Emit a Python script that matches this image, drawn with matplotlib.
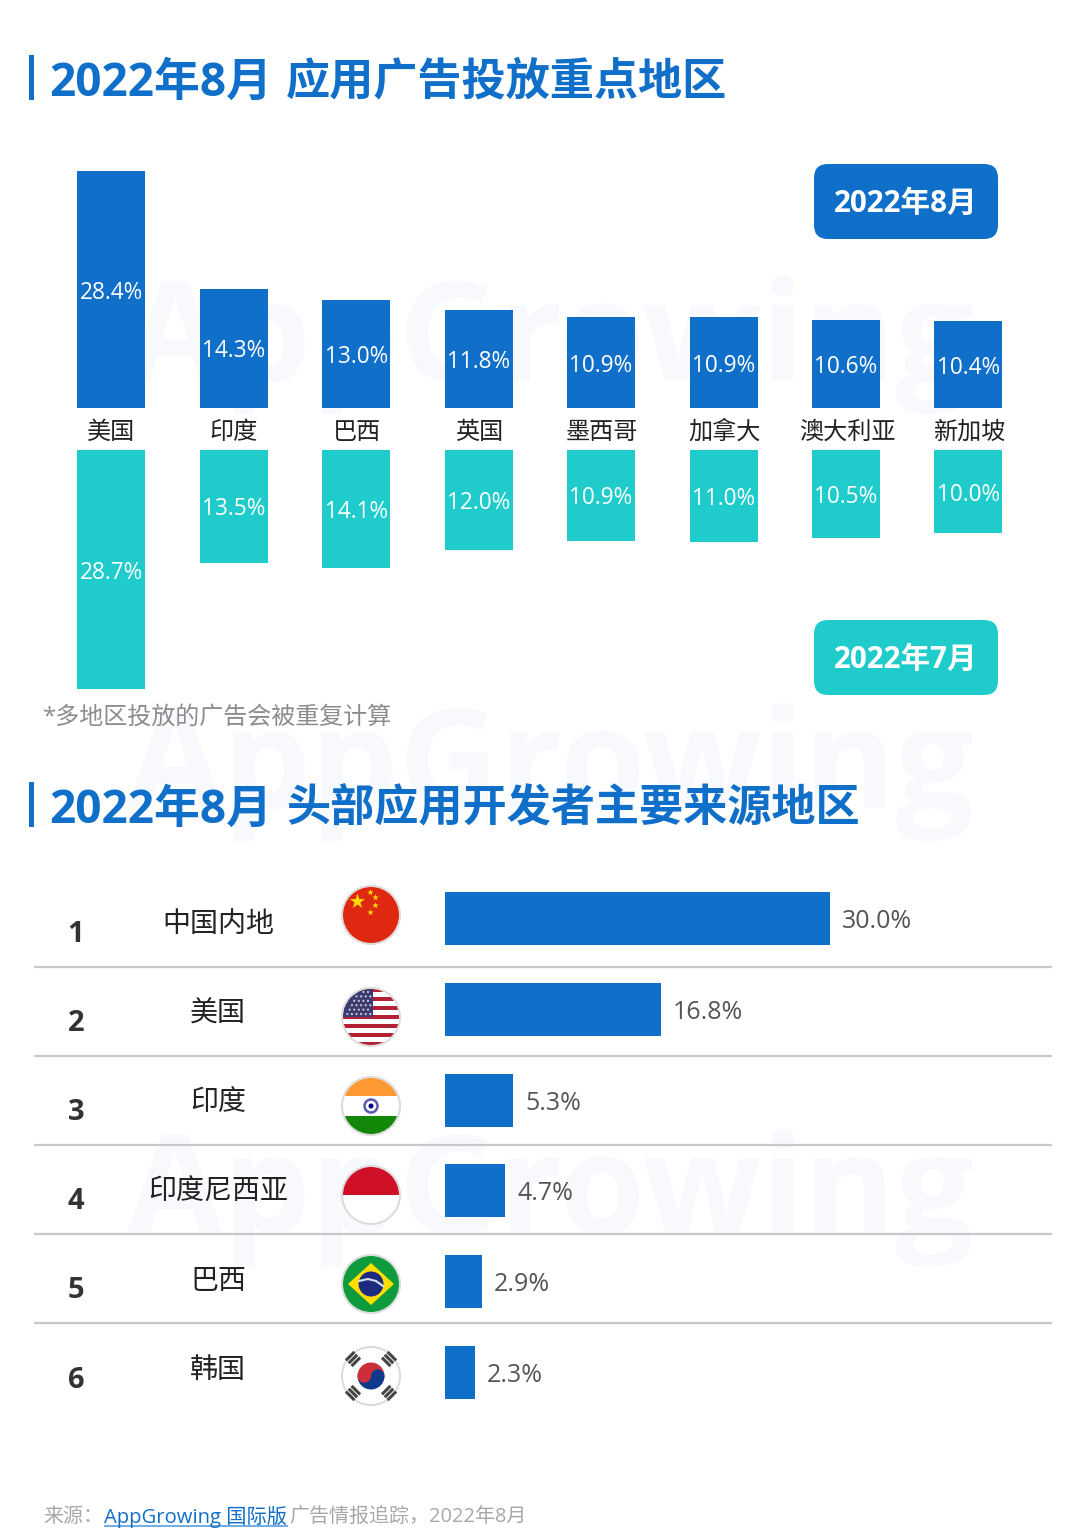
import numpy as np
import matplotlib
matplotlib.use("Agg")
import matplotlib.pyplot as plt
from matplotlib.patches import Circle, FancyBboxPatch, Polygon, Rectangle, Wedge

plt.rcParams['font.family'] = ['Open Sans', 'Noto Sans CJK SC', 'DejaVu Sans']

W, H = 1080, 1535
BLUE = "#106fc8"
TEAL = "#1fcbcb"

# top chart data
regions = ["美国", "印度", "巴西", "英国", "墨西哥", "加拿大", "澳大利亚", "新加坡"]
aug_values = [28.4, 14.3, 13.0, 11.8, 10.9, 10.9, 10.6, 10.4]
jul_values = [28.7, 13.5, 14.1, 12.0, 10.9, 11.0, 10.5, 10.0]

# bottom chart data
dev_regions = ["中国内地", "美国", "印度", "印度尼西亚", "巴西", "韩国"]
dev_values = [30.0, 16.8, 5.3, 4.7, 2.9, 2.3]
dev_ranks = [1, 2, 3, 4, 5, 6]

title_date = "2022年8月"
title_top = "应用广告投放重点地区"
title_bottom = "头部应用开发者主要来源地区"
note = "*多地区投放的广告会被重复计算"


def px_axes(fig, left, top, right, bottom):
    """Axes placed by pixel box, y measured from the top of the image"""
    ax = fig.add_axes([left / W, 1 - bottom / H, (right - left) / W, (bottom - top) / H])
    ax.patch.set_alpha(0)
    ax.axis("off")
    return ax


def base_flag(ax, x, y, r=28):
    ax.add_patch(Circle((x, y), r + 1, fc="white", ec="#dcdcdc", lw=1.5, zorder=2))
    return Circle((x, y), r, transform=ax.transData)


def flag_china(ax, x, y):
    clip = base_flag(ax, x, y)
    ax.add_patch(Rectangle((x - 30, y - 30), 60, 60, fc="#de2910", lw=0, zorder=3, clip_path=clip))
    ax.scatter([x - 14], [y - 14], s=130, marker="*", color="#ffde00", lw=0, zorder=4)
    ax.scatter([x - 1, x + 4, x + 4, x - 1], [y - 23, y - 18, y - 10, y - 3], s=24, marker="*",
               color="#ffde00", lw=0, zorder=4)


def flag_usa(ax, x, y):
    clip = base_flag(ax, x, y)
    for i in range(13):
        color = "#b22234" if i % 2 == 0 else "white"
        ax.add_patch(Rectangle((x - 30, y - 29 + i * 58 / 13), 60, 58 / 13, fc=color, lw=0, zorder=3, clip_path=clip))
    ax.add_patch(Rectangle((x - 30, y - 30), 32, 30, fc="#3c3b6e", lw=0, zorder=4, clip_path=clip))
    for row in range(6):
        for col in range(6):
            sx = x - 26 + col * 4.6 + (row % 2) * 2.3
            sy = y - 25 + row * 4.4
            if (sx - x) ** 2 + (sy - y) ** 2 < 700:
                ax.add_patch(Circle((sx, sy), 1.1, fc="#c5c7dc", lw=0, zorder=5))


def flag_india(ax, x, y):
    clip = base_flag(ax, x, y)
    ax.add_patch(Rectangle((x - 30, y - 30), 60, 20, fc="#ff9933", lw=0, zorder=3, clip_path=clip))
    ax.add_patch(Rectangle((x - 30, y + 10), 60, 20, fc="#138808", lw=0, zorder=3, clip_path=clip))
    ax.add_patch(Circle((x, y), 6.5, fc="white", ec="#5a5ab4", lw=1.8, zorder=4))
    ax.add_patch(Circle((x, y), 2.5, fc="#000080", lw=0, zorder=5))


def flag_indonesia(ax, x, y):
    clip = base_flag(ax, x, y)
    ax.add_patch(Rectangle((x - 30, y - 30), 60, 30, fc="#ce1126", lw=0, zorder=3, clip_path=clip))


def flag_brazil(ax, x, y):
    clip = base_flag(ax, x, y)
    ax.add_patch(Rectangle((x - 30, y - 30), 60, 60, fc="#0f9a3c", lw=0, zorder=3, clip_path=clip))
    ax.add_patch(Polygon([(x - 23, y), (x, y - 21), (x + 23, y), (x, y + 21)], fc="#fedf00", lw=0, zorder=4))
    ax.add_patch(Circle((x, y), 12.5, fc="#1c2a80", lw=0, zorder=5))
    ax.plot([x - 12, x - 3, x + 5, x + 12], [y - 3, y - 5, y - 3, y + 2], color="#d8e0e8", lw=1.5, zorder=6)


def flag_korea(ax, x, y):
    base_flag(ax, x, y)
    ax.add_patch(Wedge((x, y), 13.5, 180, 360, fc="#cd2e3a", lw=0, zorder=3))
    ax.add_patch(Wedge((x, y), 13.5, 0, 180, fc="#0f3a8c", lw=0, zorder=3))
    ax.add_patch(Circle((x - 6.7, y), 6.7, fc="#cd2e3a", lw=0, zorder=4))
    ax.add_patch(Circle((x + 6.7, y), 6.7, fc="#0f3a8c", lw=0, zorder=4))
    # trigrams in the four corners
    for sx, sy, ang in [(-18, -17, 45), (18, -17, -45), (-18, 17, -45), (18, 17, 45)]:
        t = np.radians(ang)
        for off in (-4, 0, 4):
            cx = x + sx + off * np.cos(t)
            cy = y + sy + off * np.sin(t)
            dx, dy = 6 * np.sin(t), -6 * np.cos(t)
            ax.plot([cx - dx, cx + dx], [cy - dy, cy + dy], color="#444444", lw=2.2,
                    solid_capstyle="butt", zorder=4)


flag_funcs = [flag_china, flag_usa, flag_india, flag_indonesia, flag_brazil, flag_korea]
flag_y = [915, 1017, 1106, 1195, 1284, 1376]

fig = plt.figure(figsize=(W / 100, H / 100), dpi=100, facecolor="white")

# page layer in image pixels, under the charts
page = px_axes(fig, 0, 0, W, H)
page.set_xlim(0, W)
page.set_ylim(H, 0)

# watermarks
for wy in [345, 772, 1198]:
    page.text(550, wy, "AppGrowing", fontsize=100, fontweight="bold", color="#f7f9fc",
              ha="center", va="center", zorder=0)

# section titles, date part set a little larger like the original
for ty, title in [(79, title_top), (806, title_bottom)]:
    page.add_patch(Rectangle((29, ty - 24), 4.5, 45, fc=BLUE, lw=0))
    page.text(49, ty + 4, title_date, fontsize=33, fontweight="bold", color=BLUE, va="center", ha="left")
    page.text(286, ty + 4, title, fontsize=31.8, fontweight="bold", color=BLUE, va="center", ha="left")

# top charts
xpos = np.arange(len(regions))
bar_w = 68 / 122.43
PX_PER_UNIT = 8.34
x0 = (40 - 111.4) / 122.43
x1 = (1040 - 111.4) / 122.43
LABEL_SHIFT = 3 / PX_PER_UNIT

ax_aug = px_axes(fig, 40, 160, 1040, 408)
ax_aug.set_xlim(x0, x1)
ax_aug.set_ylim(0, 248 / PX_PER_UNIT)
ax_aug.bar(xpos, aug_values, width=bar_w, color=BLUE)
for i, v in enumerate(aug_values):
    ax_aug.text(i, v / 2 - LABEL_SHIFT, f"{v:.1f}%", color="white", fontsize=16.3, ha="center", va="center")

ax_jul = px_axes(fig, 40, 450, 1040, 700)
ax_jul.set_xlim(x0, x1)
ax_jul.set_ylim(250 / PX_PER_UNIT, 0)
ax_jul.bar(xpos, jul_values, width=bar_w, color=TEAL)
for i, v in enumerate(jul_values):
    ax_jul.text(i, v / 2 + LABEL_SHIFT, f"{v:.1f}%", color="white", fontsize=16.3, ha="center", va="center")

for i, name in enumerate(regions):
    page.text(111.5 + i * 122.6, 433, name, fontsize=17.4, color="#222222", ha="center", va="center")

# period badges
for by, label, color in [(164, "2022年8月", BLUE), (620, "2022年7月", TEAL)]:
    page.add_patch(FancyBboxPatch((814, by), 184, 75, boxstyle="round,pad=0,rounding_size=14",
                                  fc=color, lw=0))
    page.text(906, by + 40, label, fontsize=21.3, fontweight="bold", color="white", ha="center", va="center")

page.text(43, 718, note, fontsize=17.3, color="#8c8c8c", ha="left", va="center")

# bottom chart
PX_PER_PCT = 385 / 30.0
ypos = np.arange(len(dev_values))
ax_dev = px_axes(fig, 445, 873, 1045, 1418)
ax_dev.set_xlim(0, 600 / PX_PER_PCT)
ax_dev.set_ylim(5.5, -0.5)
ax_dev.barh(ypos, dev_values, height=53 / 90.8, color=BLUE)
for i, v in enumerate(dev_values):
    ax_dev.annotate(f"{v:.1f}%", (v, i), xytext=(12 * 0.72, -2.2), textcoords="offset points",
                    color="#555555", fontsize=18, ha="left", va="center")

for i, (rank, name) in enumerate(zip(dev_ranks, dev_regions)):
    page.text(76, 934 + i * 89.2, str(rank), fontsize=21, fontweight="bold", color="#333333", ha="center", va="center")
    page.text(218, 925 + i * 89.2, name, fontsize=20.2, color="#222222", ha="center", va="center")
    flag_funcs[i](page, 371, flag_y[i])

for ly in [967, 1056, 1145, 1234, 1323]:
    page.plot([34, 1052], [ly, ly], color="#c8c8c8", lw=1.6, zorder=1, solid_capstyle="butt")

# source line
page.text(43, 1517, "来源：", fontsize=14.4, color="#a8a8a8", ha="left", va="center")
page.text(104, 1517, "AppGrowing 国际版", fontsize=14.6, color=BLUE, ha="left", va="center")
page.plot([104, 288], [1526, 1526], color="#5b9ede", lw=1.2, solid_capstyle="butt")
page.text(289, 1517, "广告情报追踪，2022年8月", fontsize=14.4, color="#a8a8a8", ha="left", va="center")

page.set_xlim(0, W)
page.set_ylim(H, 0)
fig.savefig("out.png", dpi=100)
